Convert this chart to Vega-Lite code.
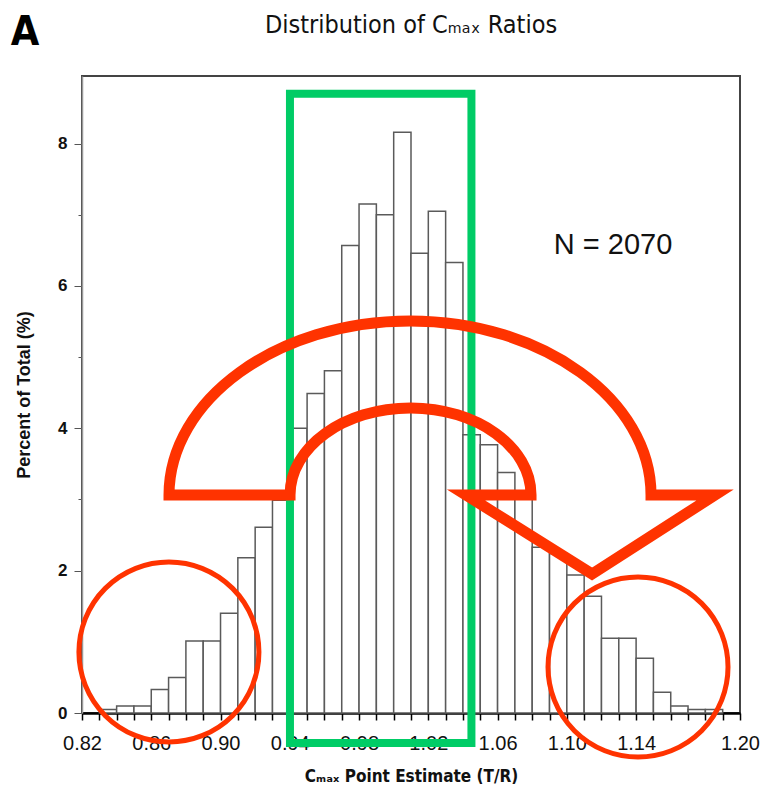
{
  "$schema": "https://vega.github.io/schema/vega-lite/v6.json",
  "width": 658,
  "height": 637,
  "autosize": "none",
  "padding": {"left": 82, "top": 76, "right": 23, "bottom": 83},
  "background": "white",
  "config": {
    "view": {"stroke": "#444444", "strokeWidth": 2},
    "font": "Liberation Sans"
  },
  "title": {
    "text": "Distribution of Cₘₐₓ Ratios",
    "font": "Liberation Sans Narrow, DejaVu Sans Condensed, Liberation Sans",
    "fontSize": 25,
    "fontWeight": "normal",
    "color": "#111111",
    "anchor": "middle",
    "frame": "group",
    "offset": -26
  },
  "layer": [
    {
      "data": {
        "values": [
          {"bin_start": 0.83, "bin_end": 0.84, "pct": 0.05},
          {"bin_start": 0.84, "bin_end": 0.85, "pct": 0.1},
          {"bin_start": 0.85, "bin_end": 0.86, "pct": 0.1},
          {"bin_start": 0.86, "bin_end": 0.87, "pct": 0.33},
          {"bin_start": 0.87, "bin_end": 0.88, "pct": 0.5},
          {"bin_start": 0.88, "bin_end": 0.89, "pct": 1.01},
          {"bin_start": 0.89, "bin_end": 0.9, "pct": 1.01},
          {"bin_start": 0.9, "bin_end": 0.91, "pct": 1.4},
          {"bin_start": 0.91, "bin_end": 0.92, "pct": 2.18},
          {"bin_start": 0.92, "bin_end": 0.93, "pct": 2.61},
          {"bin_start": 0.93, "bin_end": 0.94, "pct": 2.99},
          {"bin_start": 0.94, "bin_end": 0.95, "pct": 4.0},
          {"bin_start": 0.95, "bin_end": 0.96, "pct": 4.49},
          {"bin_start": 0.96, "bin_end": 0.97, "pct": 4.81},
          {"bin_start": 0.97, "bin_end": 0.98, "pct": 6.57},
          {"bin_start": 0.98, "bin_end": 0.99, "pct": 7.15},
          {"bin_start": 0.99, "bin_end": 1.0, "pct": 7.0},
          {"bin_start": 1.0, "bin_end": 1.01, "pct": 8.16},
          {"bin_start": 1.01, "bin_end": 1.02, "pct": 6.46},
          {"bin_start": 1.02, "bin_end": 1.03, "pct": 7.05},
          {"bin_start": 1.03, "bin_end": 1.04, "pct": 6.33},
          {"bin_start": 1.04, "bin_end": 1.05, "pct": 3.91},
          {"bin_start": 1.05, "bin_end": 1.06, "pct": 3.77},
          {"bin_start": 1.06, "bin_end": 1.07, "pct": 3.38},
          {"bin_start": 1.07, "bin_end": 1.08, "pct": 3.05},
          {"bin_start": 1.08, "bin_end": 1.09, "pct": 2.33},
          {"bin_start": 1.09, "bin_end": 1.1, "pct": 2.24},
          {"bin_start": 1.1, "bin_end": 1.11, "pct": 1.94},
          {"bin_start": 1.11, "bin_end": 1.12, "pct": 1.64},
          {"bin_start": 1.12, "bin_end": 1.13, "pct": 1.05},
          {"bin_start": 1.13, "bin_end": 1.14, "pct": 1.05},
          {"bin_start": 1.14, "bin_end": 1.15, "pct": 0.77},
          {"bin_start": 1.15, "bin_end": 1.16, "pct": 0.29},
          {"bin_start": 1.16, "bin_end": 1.17, "pct": 0.1},
          {"bin_start": 1.17, "bin_end": 1.18, "pct": 0.05},
          {"bin_start": 1.18, "bin_end": 1.19, "pct": 0.05}
        ]
      },
      "mark": {"type": "rect", "fill": "white", "stroke": "#5a5a5a", "strokeWidth": 1.5},
      "encoding": {
        "x": {
          "field": "bin_start",
          "type": "quantitative",
          "title": "Cₘₐₓ  Point Estimate (T/R)",
          "scale": {"domain": [0.82, 1.2], "nice": false, "zero": false},
          "axis": {
            "titleFont": "Liberation Sans Narrow, DejaVu Sans Condensed, Liberation Sans",
            "titleFontSize": 17,
            "titleFontWeight": "bold",
            "titleColor": "#111111",
            "titlePadding": 15,
            "tickCount": 100,
            "values": [0.82, 0.83, 0.84, 0.85, 0.86, 0.87, 0.88, 0.89, 0.9, 0.91, 0.92, 0.93, 0.94, 0.95, 0.96, 0.97, 0.98, 0.99, 1.0, 1.01, 1.02, 1.03, 1.04, 1.05, 1.06, 1.07, 1.08, 1.09, 1.1, 1.11, 1.12, 1.13, 1.14, 1.15, 1.16, 1.17, 1.18, 1.19, 1.19999],
            "labelExpr": "((round(datum.value*100) - 82) % 4 == 0 && round(datum.value*100) <= 114) || round(datum.value*100) == 120 ? format(datum.value, '.2f') : ''",
            "labelOverlap": false,
            "labelFlush": false,
            "labelBound": false,
            "labelFontSize": 20,
            "labelColor": "#111111",
            "labelPadding": 13,
            "tickSize": 7,
            "tickColor": "#000000",
            "tickWidth": 1.5,
            "domainColor": "#000000",
            "domainWidth": 2.5,
            "grid": false
          }
        },
        "x2": {"field": "bin_end"},
        "y": {
          "field": "pct",
          "type": "quantitative",
          "title": "Percent of Total (%)",
          "scale": {"domain": [0, 8.95], "nice": false},
          "axis": {
            "titleFont": "Liberation Sans",
            "titleFontSize": 18,
            "titleFontWeight": "bold",
            "titleColor": "#111111",
            "titlePadding": 24,
            "tickCount": 100,
            "values": [0, 1, 2, 3, 4, 5, 6, 7, 8],
            "labelExpr": "datum.value % 2 == 0 ? format(datum.value, 'd') : ''",
            "labelFontSize": 17,
            "labelFontWeight": "bold",
            "labelColor": "#111111",
            "labelPadding": 7,
            "tickSize": {"condition": {"test": "datum.value % 2 == 0", "value": 8}, "value": 4},
            "tickColor": "#555555",
            "domainColor": "#999999",
            "domainWidth": 1.5,
            "grid": false
          }
        },
        "y2": {"datum": 0}
      }
    },
    {
      "data": {"values": [{"x_left": 0.9401, "x_right": 1.0449, "y_low": -0.42, "y_high": 8.7}]},
      "mark": {"type": "rect", "fill": null, "fillOpacity": 0, "stroke": "#00CC66", "strokeWidth": 8},
      "encoding": {
        "x": {"field": "x_left", "type": "quantitative", "title": "Cₘₐₓ  Point Estimate (T/R)"},
        "x2": {"field": "x_right"},
        "y": {"field": "y_low", "type": "quantitative", "title": "Percent of Total (%)"},
        "y2": {"field": "y_high"}
      }
    },
    {
      "data": {"values": [{"cx": 1.0308, "cy": 3.695}]},
      "mark": {
        "type": "point",
        "shape": "M -0.9267 0.15 L -0.5233 0.15 C -0.5233 -0.0102 -0.3435 -0.14 -0.1217 -0.14 C 0.1002 -0.14 0.28 -0.0102 0.28 0.15 L 0.0633 0.15 L 0.4833 0.4133 L 0.8933 0.15 L 0.68 0.15 C 0.68 -0.167 0.3203 -0.43 -0.1233 -0.43 C -0.567 -0.43 -0.9267 -0.167 -0.9267 0.15 Z",
        "size": 360000,
        "filled": false,
        "stroke": "#FF3300",
        "strokeWidth": 11,
        "strokeJoin": "miter",
        "strokeMiterLimit": 10,
        "opacity": 1
      },
      "encoding": {
        "x": {"field": "cx", "type": "quantitative", "title": "Cₘₐₓ  Point Estimate (T/R)"},
        "y": {"field": "cy", "type": "quantitative", "title": "Percent of Total (%)"}
      }
    },
    {
      "data": {"values": [{"cx": 0.8702, "cy": 0.857}, {"cx": 1.1411, "cy": 0.646}]},
      "mark": {"type": "point", "shape": "circle", "size": 32400, "filled": false, "stroke": "#FF3300", "strokeWidth": 5, "opacity": 1},
      "encoding": {
        "x": {"field": "cx", "type": "quantitative", "title": "Cₘₐₓ  Point Estimate (T/R)"},
        "y": {"field": "cy", "type": "quantitative", "title": "Percent of Total (%)"}
      }
    },
    {
      "data": {"values": [{"tx": 1.1267, "ty": 6.576, "label": "N = 2070"}]},
      "mark": {"type": "text", "font": "Liberation Sans", "fontSize": 29, "color": "#111111", "align": "center", "baseline": "middle"},
      "encoding": {
        "x": {"field": "tx", "type": "quantitative", "title": "Cₘₐₓ  Point Estimate (T/R)"},
        "y": {"field": "ty", "type": "quantitative", "title": "Percent of Total (%)"},
        "text": {"field": "label"}
      }
    },
    {
      "data": {"values": [{"tx": 0.7871, "ty": 9.555, "label": "A"}]},
      "mark": {"type": "text", "font": "Liberation Sans Narrow, DejaVu Sans Condensed, Liberation Sans", "fontSize": 41, "fontWeight": "bold", "color": "#000000", "align": "center", "baseline": "middle"},
      "encoding": {
        "x": {"field": "tx", "type": "quantitative", "title": "Cₘₐₓ  Point Estimate (T/R)"},
        "y": {"field": "ty", "type": "quantitative", "title": "Percent of Total (%)"},
        "text": {"field": "label"}
      }
    }
  ]
}
